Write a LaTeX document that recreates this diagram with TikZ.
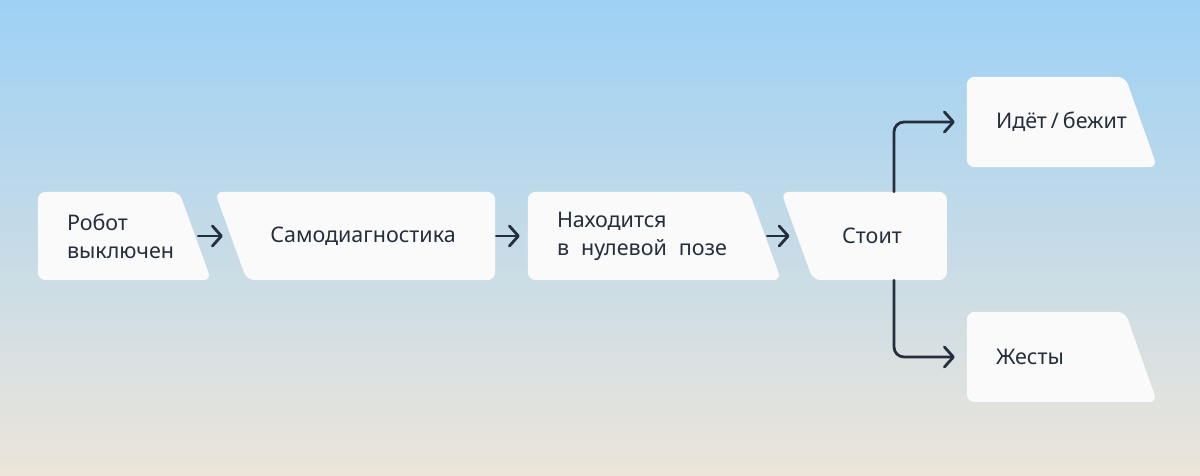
\documentclass[tikz,border=0pt]{standalone}
\usepackage{fontspec}
\setmainfont{Noto Sans}
\usetikzlibrary{arrows.meta,calc}
\pgfdeclarelayer{background}
\pgfsetlayers{background,main}

\definecolor{ink}{HTML}{252E3D}
\definecolor{skytop}{HTML}{9DD1F5}
\definecolor{skymid}{HTML}{BCDAEC}
\definecolor{sand}{HTML}{ECE5DA}
\definecolor{cardfill}{HTML}{FAFAFA}
\definecolor{cardshadow}{HTML}{D6D9DB}

\tikzset{
  card/.style={inner xsep=29pt, inner ysep=0pt, minimum height=88pt,
    text width=#1, align=left, text=ink,
    font=\fontsize{21.5}{28}\selectfont},
  cardc/.style={card=#1, align=center},
  cardpath/.style={fill=cardfill, rounded corners=8pt},
  shadowpath/.style={fill=cardshadow, rounded corners=8pt, yshift=-3.5pt},
  flow/.style={draw=ink, line width=2.8pt, line cap=round, line join=round,
    -{Straight Barb[length=9pt,width=20pt,round]}}
}

% slanted side on the right / on the left
\newcommand\cardR[1]{
  \path[shadowpath] (#1.north west) -- ($(#1.north east)+(-16,0)$) -- ($(#1.south east)+(16,0)$) -- (#1.south west) -- cycle;
  \path[cardpath] (#1.north west) -- ($(#1.north east)+(-16,0)$) -- ($(#1.south east)+(16,0)$) -- (#1.south west) -- cycle;
}
\newcommand\cardL[1]{
  \path[shadowpath] ($(#1.north west)+(-16,0)$) -- (#1.north east) -- (#1.south east) -- ($(#1.south west)+(16,0)$) -- cycle;
  \path[cardpath] ($(#1.north west)+(-16,0)$) -- (#1.north east) -- (#1.south east) -- ($(#1.south west)+(16,0)$) -- cycle;
}

\begin{document}
\begin{tikzpicture}[x=1pt,y=1pt]
\useasboundingbox (0,0) rectangle (1200,475);

\node [card=99pt] (off) at (116.5,239) {Робот\\выключен};
\node [cardc=206pt] (diag) at (363,239) {Самодиагностика};
\node [card=179pt] (zero) at (646.5,239) {Находится\\в\hspace{12pt}нулевой\hspace{12pt}позе};
\node [cardc=91.5pt] (stand) at (872,239) {Стоит};
\node [card=116pt, minimum height=90pt] (walk) at (1054,353) {\mbox{Идёт\hspace{4pt}/\hspace{4pt}бежит}};
\node [card=116pt, minimum height=90pt] (gest) at (1054,118) {Жесты};

\begin{pgfonlayer}{background}
\shade [top color=skytop, middle color=skymid, bottom color=sand] (0,0) rectangle (1200,475);
\cardR{off}
\cardL{diag}
\cardR{zero}
\cardL{stand}
\cardR{walk}
\cardR{gest}
\end{pgfonlayer}

\draw [flow, shorten <=3pt, shorten >=8pt] (off.east) -- (diag.west);
\draw [flow, shorten <=1pt, shorten >=8pt] (diag.east) -- (zero.west);
\draw [flow, shorten <=2pt, shorten >=7.5pt] (zero.east) -- (stand.west);
\draw [flow, rounded corners=10pt, shorten >=12pt] ([xshift=22pt]stand.north) |- (walk.west);
\draw [flow, rounded corners=10pt, shorten >=12pt] ([xshift=22pt]stand.south) |- (gest.west);
\end{tikzpicture}
\end{document}
